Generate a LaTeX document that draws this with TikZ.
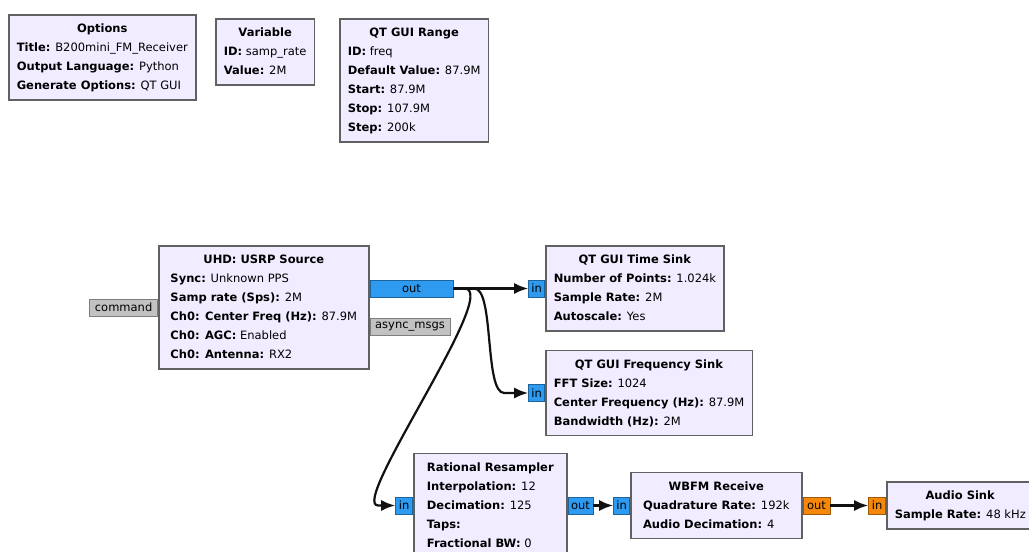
\documentclass[tikz,border=0pt]{standalone}
\usepackage{fontspec}
\setmainfont{DejaVu Sans}
\usepackage{tikz}
\usetikzlibrary{arrows.meta, positioning, calc}
\definecolor{Ink}{HTML}{111111}
\definecolor{BlockFill}{HTML}{F1ECFF}
\definecolor{BlockLine}{HTML}{616161}
\definecolor{Cplx}{HTML}{2E9AF0}
\definecolor{Flt}{HTML}{F5880A}
\definecolor{Msg}{HTML}{C2C2C2}

\newcommand{\blk}[2]{\begin{tabular}{@{}l@{}}\multicolumn{1}{@{}c@{}}{\textbf{#1}}\\#2\end{tabular}}
\newcommand{\kv}[2]{\textbf{#1:} #2}

\begin{document}
\begin{tikzpicture}[
  x=1pt, y=-1pt,
  font=\fontsize{11.5}{19}\selectfont,
  block/.style={draw=BlockLine, line width=1.6pt, fill=BlockFill, inner xsep=8pt, inner ysep=4.5pt, anchor=west},
  port/.style={draw=#1!65!black, fill=#1, line width=0.8pt, minimum height=17pt, inner sep=1pt, font=\fontsize{11.5}{12}\selectfont},
  conn/.style={-{Latex[length=14pt,width=11pt]}, line width=2.2pt, draw=Ink}
]
\useasboundingbox (0,0) rectangle (1029,552);
\clip (0,0) rectangle (1029,552);

% variables and options
\node[block, anchor=north west] (opts) at (8,14) {\blk{Options}{\kv{Title}{B200mini\_FM\_Receiver}\\\kv{Output Language}{Python}\\\kv{Generate Options}{QT GUI}}};
\node[block, anchor=north west] (var) at (215,18) {\blk{Variable}{\kv{ID}{samp\_rate}\\\kv{Value}{2M}}};
\node[block, anchor=north west] (rng) at (339,18) {\blk{QT GUI Range}{\kv{ID}{freq}\\\kv{Default Value}{87.9M}\\\kv{Start}{87.9M}\\\kv{Stop}{107.9M}\\\kv{Step}{200k}}};

% flowgraph blocks
\node[block, minimum width=210pt] (usrp) at (158,307.5) {\blk{UHD: USRP Source}{\kv{Sync}{Unknown PPS}\\\kv{Samp rate (Sps)}{2M}\\\kv{Ch0: Center Freq (Hz)}{87.9M}\\\kv{Ch0: AGC}{Enabled}\\\kv{Ch0: Antenna}{RX2}}};
\node[block] (tsink) at (545,288.5) {\blk{QT GUI Time Sink}{\kv{Number of Points}{1.024k}\\\kv{Sample Rate}{2M}\\\kv{Autoscale}{Yes}}};
\node[block] (fsink) at (545,393) {\blk{QT GUI Frequency Sink}{\kv{FFT Size}{1024}\\\kv{Center Frequency (Hz)}{87.9M}\\\kv{Bandwidth (Hz)}{2M}}};
\node[block, minimum width=153pt] (resamp) at (413,505.5) {\blk{Rational Resampler}{\kv{Interpolation}{12}\\\kv{Decimation}{125}\\\textbf{Taps:}\\\kv{Fractional BW}{0}}};
\node[block, minimum width=171pt] (wbfm) at (630,505.5) {\blk{WBFM Receive}{\kv{Quadrature Rate}{192k}\\\kv{Audio Decimation}{4}}};
\node[block] (asink) at (886,505.5) {\blk{Audio Sink}{\kv{Sample Rate}{48 kHz}}};

% ports
\node[port=Cplx, minimum width=83pt, anchor=west] (uout) at ([yshift=19pt]usrp.east) {out};
\node[port=Msg, minimum width=80pt, anchor=west] (uasync) at ([yshift=-19pt]usrp.east) {async\_msgs};
\node[port=Msg, minimum width=68pt, anchor=east] (ucmd) at (usrp.west) {command};
\node[port=Cplx, minimum width=16pt, anchor=east] (tin) at (tsink.west) {in};
\node[port=Cplx, minimum width=16pt, anchor=east] (fin) at (fsink.west) {in};
\node[port=Cplx, minimum width=17pt, anchor=east] (rin) at (resamp.west) {in};
\node[port=Cplx, minimum width=25pt, anchor=west] (rout) at (resamp.east) {out};
\node[port=Cplx, minimum width=16pt, anchor=east] (win) at (wbfm.west) {in};
\node[port=Flt, minimum width=27pt, anchor=west] (wout) at (wbfm.east) {out};
\node[port=Flt, minimum width=17pt, anchor=east] (ain) at (asink.west) {in};

% connections
\draw[conn] (uout.east) -- (tin.west);
\draw[conn] (uout.east) -- ++(21,0) .. controls +(20,0) and +(-20,0) .. ($(fin.west)+(-24,0)$) -- (fin.west);
\draw[conn] (uout.east) -- ++(11,0) .. controls +(38,0) and +(-30,0) .. ($(rin.west)+(-17,0)$) -- (rin.west);
\draw[conn] (rout.east) -- (win.west);
\draw[conn] (wout.east) -- (ain.west);
\end{tikzpicture}
\end{document}
